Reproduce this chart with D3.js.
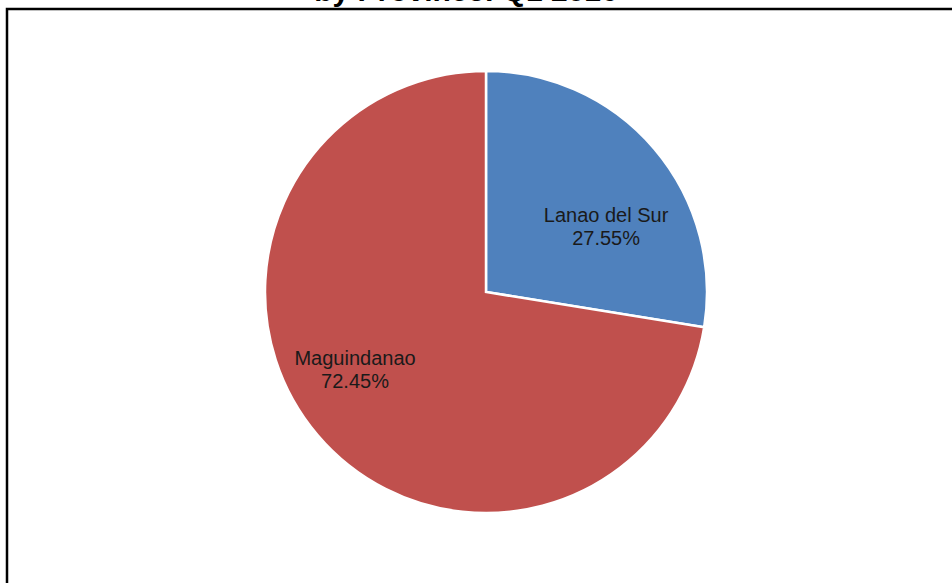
<!DOCTYPE html>
<html>
<head>
<meta charset="utf-8">
<script src="https://cdn.jsdelivr.net/npm/d3@7/dist/d3.min.js"></script>
<style>
  html, body { margin: 0; padding: 0; background: #fff; }
  svg { display: block; }
</style>
</head>
<body>
<script>
// ---- data ----
const categories = ["Lanao del Sur", "Maguindanao"];
const values = [27.55, 72.45];
const labels = ["27.55%", "72.45%"];
const colors = ["#4F81BD", "#C0504D"];
const titleText = "by Province: Q1 2016";

// ---- layout ----
const W = 952, H = 583;
const cx = 486, cy = 292, R = 221;

const svg = d3.select("body").append("svg")
  .attr("width", W).attr("height", H);

// chart frame
svg.append("rect")
  .attr("x", 7).attr("y", 9)
  .attr("width", W + 20).attr("height", H + 20)
  .attr("fill", "#fff")
  .attr("stroke", "#000")
  .attr("stroke-width", 2.5);

// title (mostly cropped at top)
svg.append("text")
  .attr("x", 466).attr("y", 1)
  .attr("text-anchor", "middle")
  .attr("font-family", "'Liberation Sans', Arial, sans-serif")
  .attr("font-weight", "bold")
  .attr("font-size", 30)
  .attr("fill", "#000")
  .text(titleText);

const pie = d3.pie().sort(null).value(d => d)(values);
const arc = d3.arc().innerRadius(0).outerRadius(R);

const g = svg.append("g").attr("transform", `translate(${cx},${cy})`);

g.selectAll("path.slice")
  .data(pie)
  .join("path")
  .attr("class", "slice")
  .attr("d", arc)
  .attr("fill", (d, i) => colors[i])
  .attr("stroke", "#fff")
  .attr("stroke-width", 2.5)
  .attr("stroke-linejoin", "miter");

// label placement (Excel "best fit"): polar offset per slice
const labelPolar = [
  { ang: 61.2, r: 137 },
  { ang: 239.5, r: 152 }
];

const lbl = g.selectAll("g.lbl")
  .data(pie)
  .join("g")
  .attr("class", "lbl")
  .attr("transform", (d, i) => {
    const a = labelPolar[i].ang * Math.PI / 180;
    const x = labelPolar[i].r * Math.sin(a);
    const y = -labelPolar[i].r * Math.cos(a);
    return `translate(${x},${y})`;
  });

lbl.append("text")
  .attr("text-anchor", "middle")
  .attr("font-family", "'Liberation Sans', Arial, sans-serif")
  .attr("font-size", 20)
  .attr("fill", "#1a1a1a")
  .each(function(d, i) {
    const t = d3.select(this);
    t.append("tspan").attr("x", 0).attr("y", -4).text(categories[i]);
    t.append("tspan").attr("x", 0).attr("y", 19).text(labels[i]);
  });
</script>
</body>
</html>
